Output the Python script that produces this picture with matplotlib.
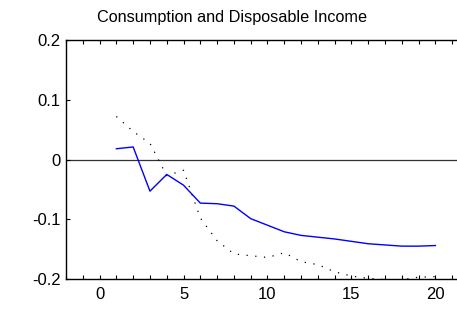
#!/usr/bin/env python3
"""
Impulse response: Consumption and Disposable Income
"""

import matplotlib
matplotlib.use("Agg")
import matplotlib.pyplot as plt
from matplotlib.ticker import MultipleLocator

# horizon (periods)
periods = list(range(1, 21))

# consumption response (solid blue)
consumption = [0.018, 0.021, -0.053, -0.025, -0.043, -0.073, -0.074, -0.078, -0.099, -0.110,
               -0.121, -0.127, -0.130, -0.133, -0.137, -0.141, -0.143, -0.145, -0.145, -0.144]

# disposable income response (dotted black)
income = [0.072, 0.047, 0.027, -0.027, -0.018, -0.098, -0.136, -0.158, -0.161, -0.164,
          -0.156, -0.171, -0.176, -0.188, -0.195, -0.199, -0.201, -0.201, -0.197, -0.196]

title = "Consumption and Disposable Income"
xticks = [0, 5, 10, 15, 20]
yticks = [-0.2, -0.1, 0, 0.1, 0.2]
yticklabels = ["-0.2", "-0.1", "0", "0.1", "0.2"]


def main():
    plt.rcParams['font.family'] = ['Liberation Sans', 'DejaVu Sans']

    fig = plt.figure(figsize=(4.57, 3.10), dpi=100)
    # axes runs past the right edge of the figure, as in the original crop
    ax = fig.add_axes([66 / 457, 31 / 310, 403 / 457, 239 / 310])

    ax.axhline(0, color='#333333', linewidth=0.9, zorder=1)
    ax.plot(periods, income, color='black', linewidth=0.9, linestyle=(0, (1, 6)))
    ax.plot(periods, consumption, color='#0000ff', linewidth=1.0)

    ax.set_xlim(-2, 22)
    ax.set_ylim(-0.2, 0.2)

    ax.set_xticks(xticks)
    ax.xaxis.set_minor_locator(MultipleLocator(1))
    ax.set_yticks(yticks)
    ax.set_yticklabels(yticklabels)

    ax.tick_params(axis='x', which='both', direction='in', top=True, bottom=True,
                   length=3, width=0.8, labelsize=12, pad=6)
    ax.tick_params(axis='y', which='both', direction='in', left=True, right=False,
                   length=3, width=0.8, labelsize=12, pad=4)

    for side in ['top', 'bottom', 'left']:
        ax.spines[side].set_linewidth(1.0)
    ax.spines['right'].set_visible(False)

    fig.text(232.5 / 457, 1 - 22 / 310, title, ha='center', va='baseline', fontsize=11.7)

    fig.savefig("out.png", dpi=100)


if __name__ == "__main__":
    main()
